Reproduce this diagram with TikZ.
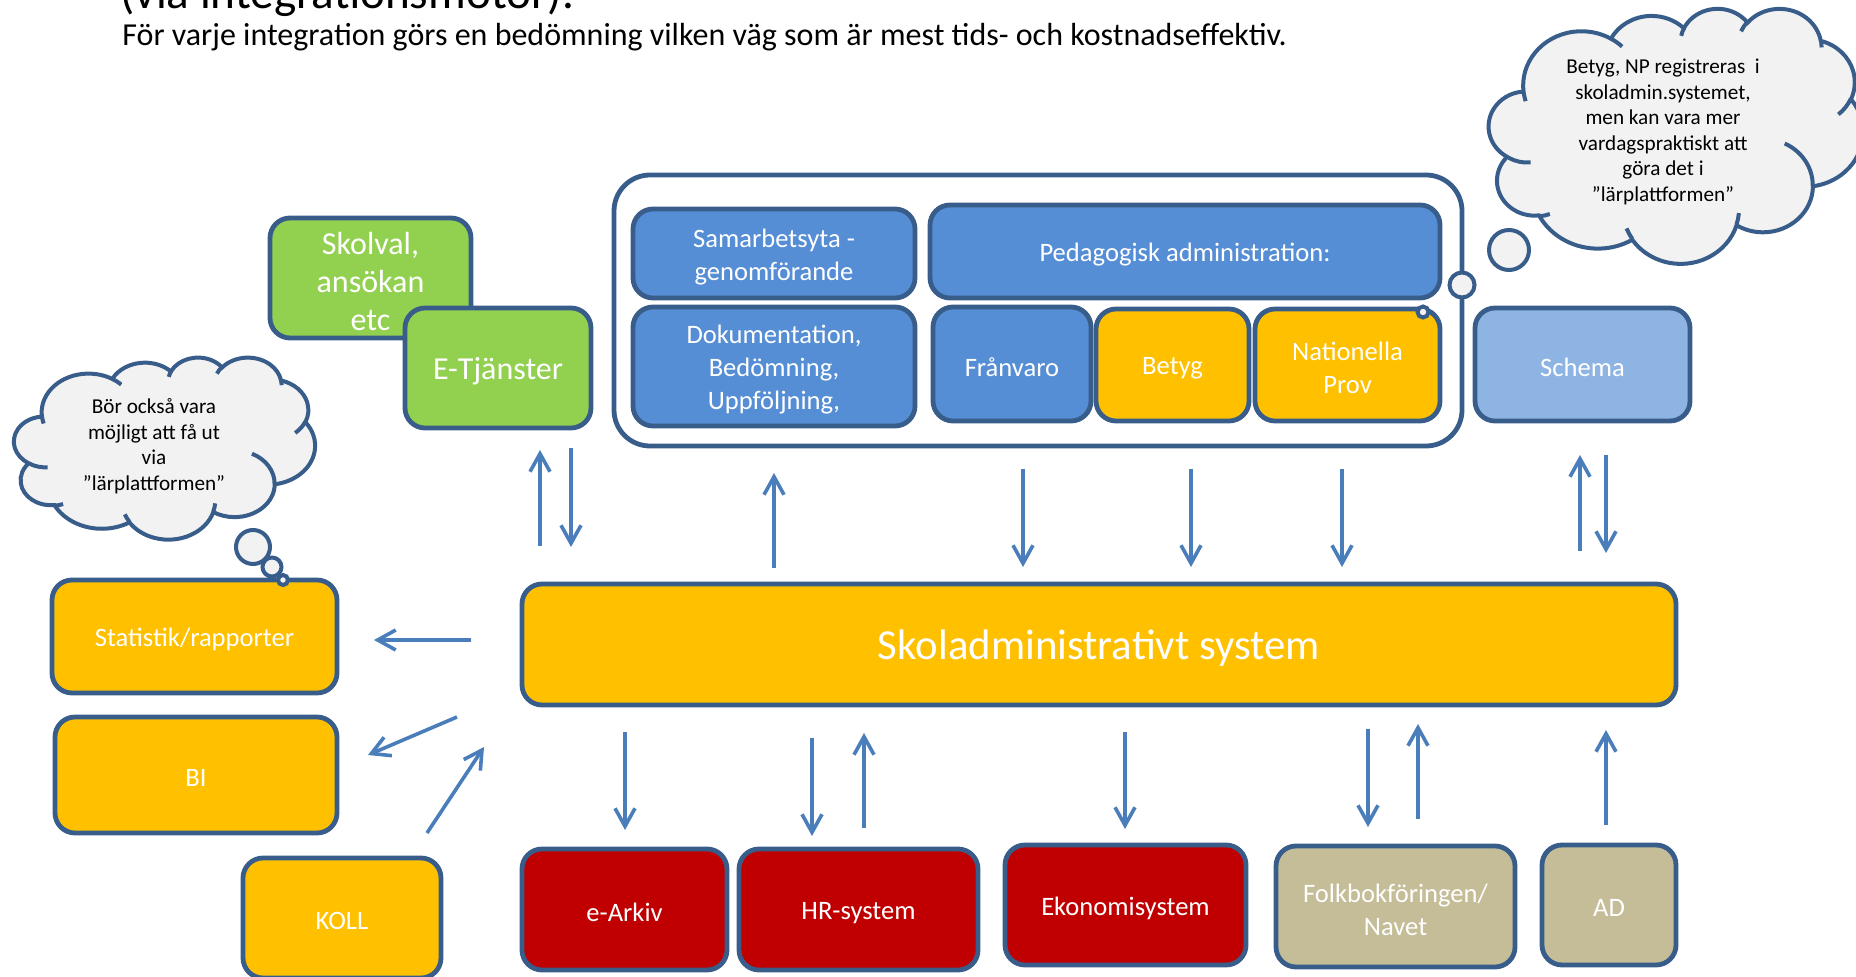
\documentclass[tikz,border=0pt]{standalone}
\usepackage{fontspec}
\setmainfont{Carlito}
\usetikzlibrary{arrows.meta}
\definecolor{bord}{HTML}{385D8A}
\definecolor{bluef}{HTML}{558ED5}
\definecolor{lbluef}{HTML}{8EB4E3}
\definecolor{yelf}{HTML}{FFC000}
\definecolor{grnf}{HTML}{92D050}
\definecolor{redf}{HTML}{C00000}
\definecolor{tanf}{HTML}{C4BD97}
\definecolor{cloudf}{HTML}{F2F2F2}
\definecolor{arrc}{HTML}{4A7EBB}
% box: name, x1, y1, x2, y2, style, text
\newcommand\bx[7]{%
  \node[#6, minimum width={(#4-#2)*0.5pt}, minimum height={(#5-#3)*0.5pt}] (#1) at ({(#2+#4)/2},{(#3+#5)/2}) {};
  \node[#6, draw=none, fill=none, minimum width=0pt, minimum height=0pt] (#1-t) at ([yshift=-1.6pt]#1.center) {#7};}
% DrawingML arcTo with visual angles
\newcommand\cparc[4]{\pgfextra{%
  \pgfmathsetmacro\cpa{atan2((#1)*sin(#3),(#2)*cos(#3))}%
  \pgfmathsetmacro\cpb{atan2((#1)*sin((#3)+(#4)),(#2)*cos((#3)+(#4)))}%
  \pgfmathsetmacro\cpd{\cpb-\cpa}%
  \pgfmathsetmacro\cpd{\cpd<0 ? \cpd+360 : \cpd}}%
  arc[x radius=#1, y radius=#2, start angle=\cpa, delta angle=\cpd]}
% cloud shape in a box: x0, y0, w, h
\newcommand\pptcloud[4]{%
  \begin{scope}[shift={(#1,#2)}, xscale={(#3)/4320}, yscale={(#4)/4320}]
  \path[draw=bord, fill=cloudf, line width=2pt] (390,1437)
    \cparc{675.3}{919.0}{-190.487}{123.781}
    \cparc{533.3}{726.7}{-144.102}{89.945}
    \cparc{436.5}{594.5}{-145.808}{99.723}
    \cparc{485.7}{659.5}{-130.986}{117.242}
    \cparc{533.3}{727.3}{-78.709}{109.027}
    \cparc{677.5}{922.0}{-46.267}{130.269}
    \cparc{578.5}{786.7}{0.625}{114.033}
    \cparc{675.2}{921.5}{22.452}{115.173}
    \cparc{772.0}{1054.3}{66.243}{78.044}
    \cparc{436.0}{591.8}{-274.942}{146.736}
    \cparc{434.5}{594.5}{-246.829}{152.519} -- cycle;
  \path[draw=bord, line width=2pt]
    (469.3,2617.7) \cparc{434.5}{594.5}{86.742}{26.430}
    (692.8,3489.9) \cparc{436.0}{591.8}{73.610}{11.447}
    (1647.8,3909.0) \cparc{675.2}{921.5}{137.624}{14.081}
    (2882.7,3475.1) \cparc{675.2}{921.5}{6.453}{15.998}
    (3412.9,2295.4) \cparc{578.5}{786.7}{-70.292}{70.917}
    (4179.8,1535.4) \cparc{533.3}{727.3}{30.318}{27.752}
    (3832.4,542.6) \cparc{485.7}{659.5}{-13.744}{14.859}
    (2907.8,395.2) \cparc{485.7}{659.5}{-149.181}{18.195}
    (2214.1,472.0) \cparc{436.5}{594.5}{-163.494}{17.686}
    (1400.0,519.2) \cparc{675.3}{919.0}{-66.707}{12.319}
    (412.7,1578.9) \cparc{675.3}{919.0}{157.654}{11.858};
  \end{scope}}
\begin{document}
\begin{tikzpicture}[x=0.5pt,y=-0.5pt,
  box/.style={draw=bord, line width=2.4pt, rounded corners=10pt, text=white, align=center, inner sep=0pt, font=\fontsize{13.3}{16.5}\selectfont},
  bluebox/.style={box, fill=bluef},
  yelbox/.style={box, fill=yelf},
  grnbox/.style={box, fill=grnf, font=\fontsize{16}{19}\selectfont},
  redbox/.style={box, fill=redf},
  tanbox/.style={box, fill=tanf},
  arr/.style={draw=arrc, line width=1.8pt, -{Straight Barb[length=9pt,width=10pt]}},
  bubble/.style={circle, draw=bord, fill=cloudf, line width=2pt, inner sep=0pt},
  cloudtext/.style={align=center, font=\fontsize{10.6}{12.75}\selectfont, text=black},
]
\useasboundingbox (0,0) rectangle (1856,977);
\clip (0,0) rectangle (1856,977);

% title texts
\node[anchor=base west, inner sep=0pt, font=\fontsize{23.6}{28}\selectfont] (title) at (120,9) {(via integrationsmotor).};
\node[anchor=base west, inner sep=0pt, font=\fontsize{16}{19}\selectfont] (subtitle) at (122,45.5) {För varje integration görs en bedömning vilken väg som är mest tids- och kostnadseffektiv.};

% container
\bx{cont}{614}{175}{1462}{446}{draw=bord, line width=2.4pt, rounded corners=18pt}{}
\bx{samar}{633}{209}{915}{298}{bluebox}{Samarbetsyta -\\genomförande}
\bx{peda}{930}{205}{1440}{298}{bluebox}{Pedagogisk administration:}
\bx{doku}{633}{307}{915}{426}{bluebox}{Dokumentation,\\Bedömning,\\Uppföljning,}
\bx{fran}{933}{307}{1091}{421}{bluebox}{Frånvaro}
\bx{betyg}{1096}{309}{1249}{421}{yelbox}{Betyg}
\bx{natprov}{1255}{309}{1440}{421}{yelbox}{Nationella\\Prov}
\bx{schema}{1475}{308}{1690}{421}{box, fill=lbluef}{Schema}

% green
\bx{skolval}{270}{218}{471}{338}{grnbox}{Skolval,\\ansökan\\etc}
\bx{etj}{405}{308}{591}{428}{grnbox}{E-Tjänster}

% left yellow
\bx{stat}{52}{580}{337}{693}{yelbox}{Statistik/rapporter}
\bx{bi}{55}{717}{337}{833}{yelbox}{BI}
\bx{koll}{243}{858}{441}{978}{yelbox}{KOLL}

% central system
\bx{sys}{522}{584}{1676}{705}{yelbox, font=\fontsize{21.4}{25}\selectfont}{Skoladministrativt system}

% bottom row
\bx{earkiv}{522}{849}{727}{970}{redbox}{e-Arkiv}
\bx{hr}{739}{849}{978}{970}{redbox}{HR-system}
\bx{ekon}{1005}{845}{1246}{965}{redbox}{Ekonomisystem}
\bx{folk}{1276}{846}{1515}{967}{tanbox}{Folkbokföringen/\\Navet}
\bx{ad}{1542}{845}{1676}{965}{tanbox}{AD}

% clouds
\pptcloud{15}{357}{300}{182}
\node[cloudtext] (cloudLt) at (154,446) {Bör också vara\\möjligt att få ut\\via\\”lärplattformen”};
\node[bubble, minimum size=34pt*0.5] (bL1) at (253,547) {};
\node[bubble, minimum size=19pt*0.5] (bL2) at (272,567) {};
\node[bubble, minimum size=10pt*0.5] (bL3) at (283,580) {};

\pptcloud{1490}{8}{373}{255}
\node[cloudtext] (cloudRt) at (1663,132) {Betyg, NP registreras~~i\\skoladmin.systemet,\\men kan vara mer\\vardagspraktiskt att\\göra det i\\”lärplattformen”};
\node[bubble, minimum size=40pt*0.5] (bR1) at (1509,250) {};
\node[bubble, minimum size=25pt*0.5] (bR2) at (1462,285) {};
\node[bubble, minimum size=11pt*0.5] (bR3) at (1423,312) {};

% arrow end points
\coordinate (e1a) at (540,546); \coordinate (e1b) at (540,450);
\coordinate (e2a) at (571,448); \coordinate (e2b) at (571,547);
\coordinate (d1a) at (774,568); \coordinate (d1b) at (774,473);
\coordinate (f1a) at (1023,469); \coordinate (f1b) at (1023,567);
\coordinate (g1a) at (1191,469); \coordinate (g1b) at (1191,567);
\coordinate (n1a) at (1342,469); \coordinate (n1b) at (1342,567);
\coordinate (s1a) at (1580,551); \coordinate (s1b) at (1580,455);
\coordinate (s2a) at (1606,455); \coordinate (s2b) at (1606,553);
\coordinate (st1a) at (471,640); \coordinate (st1b) at (374,640);
\coordinate (bi1a) at (457,717); \coordinate (bi1b) at (368,755);
\coordinate (ko1a) at (427,833); \coordinate (ko1b) at (484,747);
\coordinate (ea1a) at (625,732); \coordinate (ea1b) at (625,830);
\coordinate (hr1a) at (812,738); \coordinate (hr1b) at (812,836);
\coordinate (hr2a) at (864,828); \coordinate (hr2b) at (864,733);
\coordinate (ek1a) at (1125,732); \coordinate (ek1b) at (1125,829);
\coordinate (fo1a) at (1368,729); \coordinate (fo1b) at (1368,827);
\coordinate (fo2a) at (1418,819); \coordinate (fo2b) at (1418,724);
\coordinate (ad1a) at (1606,825); \coordinate (ad1b) at (1606,730);

\foreach \p in {e1,e2,d1,f1,g1,n1,s1,s2,st1,bi1,ko1,ea1,hr1,hr2,ek1,fo1,fo2,ad1}
  \draw[arr] (\p a) -- (\p b);
\end{tikzpicture}
\end{document}
